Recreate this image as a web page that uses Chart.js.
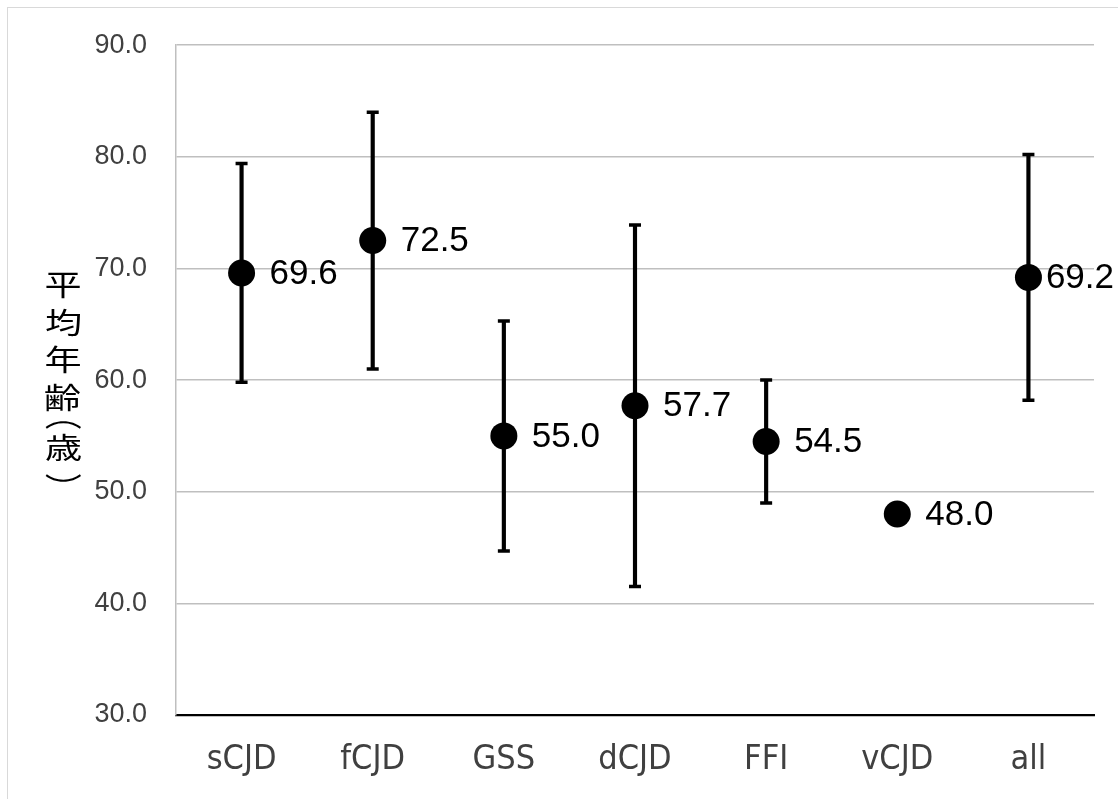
<!DOCTYPE html>
<html>
<head>
<meta charset="utf-8">
<script src="https://cdn.jsdelivr.net/npm/chart.js@4.4.1/dist/chart.umd.min.js"></script>
<style>
  html, body { margin: 0; padding: 0; background: #fff; overflow: hidden; }
  #frame { position: absolute; left: 7px; top: 7px; width: 1300px; height: 1000px; border: 1.5px solid #d9d9d9; }
  #wrap { position: absolute; left: 0; top: 0; width: 1118px; height: 799px; }
</style>
</head>
<body>
<div id="frame"></div>
<div id="wrap"><canvas id="chart" width="1118" height="799"></canvas></div>
<script>
// data
const categories = ['sCJD', 'fCJD', 'GSS', 'dCJD', 'FFI', 'vCJD', 'all'];
const meanAge = [69.6, 72.5, 55.0, 57.7, 54.5, 48.0, 69.2];
const sdAge = [9.8, 11.5, 10.3, 16.2, 5.5, null, 11.0];
const yMin = 30;
const yMax = 90;
const yStep = 10;
const yTitle = '平均年齢（歳）';

const lowAge = meanAge.map((m, i) => sdAge[i] == null ? null : m - sdAge[i]);
const highAge = meanAge.map((m, i) => sdAge[i] == null ? null : m + sdAge[i]);
const errRange = meanAge.map((m, i) => sdAge[i] == null ? null : [lowAge[i], highAge[i]]);

// value labels to the right of each point
const valueLabels = {
  id: 'valueLabels',
  afterDatasetsDraw(chart) {
    const ctx = chart.ctx;
    const meta = chart.getDatasetMeta(0);
    ctx.save();
    ctx.font = '35px "Liberation Sans", Arial, sans-serif';
    ctx.fillStyle = '#000';
    ctx.textBaseline = 'middle';
    ctx.textAlign = 'left';
    meta.data.forEach((pt, i) => {
      const txt = meanAge[i].toFixed(1);
      const w = ctx.measureText(txt).width;
      let x = pt.x + 28;
      if (x + w > chart.width - 4) x = chart.width - 4 - w;
      ctx.fillText(txt, x, pt.y + 1);
    });
    ctx.restore();
  }
};

// stacked vertical y-axis title (glyphs a bit wide, brackets turned sideways)
const verticalTitle = {
  id: 'verticalTitle',
  afterDraw(chart) {
    const ctx = chart.ctx;
    const offsets = [0, 37, 74, 112, 140, 162, 193];
    const cx = 63, y0 = 285;
    ctx.save();
    ctx.font = '29px "Noto Sans CJK JP", sans-serif';
    ctx.fillStyle = '#000';
    ctx.textAlign = 'left';
    ctx.textBaseline = 'alphabetic';
    Array.from(yTitle).forEach((ch, i) => {
      const m = ctx.measureText(ch);
      const gx = (m.actualBoundingBoxRight - m.actualBoundingBoxLeft) / 2;
      const gy = (m.actualBoundingBoxDescent - m.actualBoundingBoxAscent) / 2;
      ctx.save();
      ctx.translate(cx, y0 + offsets[i]);
      ctx.scale(1.28, 1);
      if (ch === '（' || ch === '）') ctx.rotate(Math.PI / 2);
      ctx.fillText(ch, -gx, -gy);
      ctx.restore();
    });
    ctx.restore();
  }
};

new Chart(document.getElementById('chart'), {
  type: 'bar',
  data: {
    labels: categories,
    datasets: [
      {
        type: 'line',
        data: meanAge,
        showLine: false,
        pointRadius: 13.5,
        pointHoverRadius: 13.5,
        pointBackgroundColor: '#000',
        pointBorderWidth: 0,
        order: 0
      },
      {
        type: 'line',
        data: highAge,
        showLine: false,
        pointStyle: 'line',
        pointRadius: 6,
        pointBorderWidth: 3.5,
        pointBorderColor: '#000',
        order: 1
      },
      {
        type: 'line',
        data: lowAge,
        showLine: false,
        pointStyle: 'line',
        pointRadius: 6,
        pointBorderWidth: 3.5,
        pointBorderColor: '#000',
        order: 1
      },
      {
        type: 'bar',
        data: errRange,
        barThickness: 3.5,
        backgroundColor: '#000',
        borderWidth: 0,
        order: 2
      }
    ]
  },
  options: {
    responsive: false,
    animation: false,
    devicePixelRatio: 1,
    layout: { padding: { top: 38, right: 24, left: 0, bottom: 0 } },
    plugins: {
      legend: { display: false },
      tooltip: { enabled: false }
    },
    scales: {
      x: {
        offset: true,
        grid: { display: false, drawTicks: false },
        border: { display: true, color: '#000', width: 2.2 },
        ticks: {
          color: '#404040',
          padding: 25,
          font: { family: '"DejaVu Sans Condensed", "Liberation Sans Narrow", sans-serif', size: 34 }
        },
        afterFit(scale) { scale.height = 84; }
      },
      y: {
        min: yMin,
        max: yMax,
        grid: { color: '#bfbfbf', lineWidth: 1.5, drawTicks: false },
        border: { display: true, color: '#bfbfbf', width: 1.5 },
        ticks: {
          stepSize: yStep,
          color: '#404040',
          padding: 29,
          font: { family: '"Liberation Sans", Arial, sans-serif', size: 27 },
          callback: v => Number(v).toFixed(1)
        },
        afterFit(scale) { scale.width = 176; }
      }
    }
  },
  plugins: [valueLabels, verticalTitle]
});
</script>
</body>
</html>
